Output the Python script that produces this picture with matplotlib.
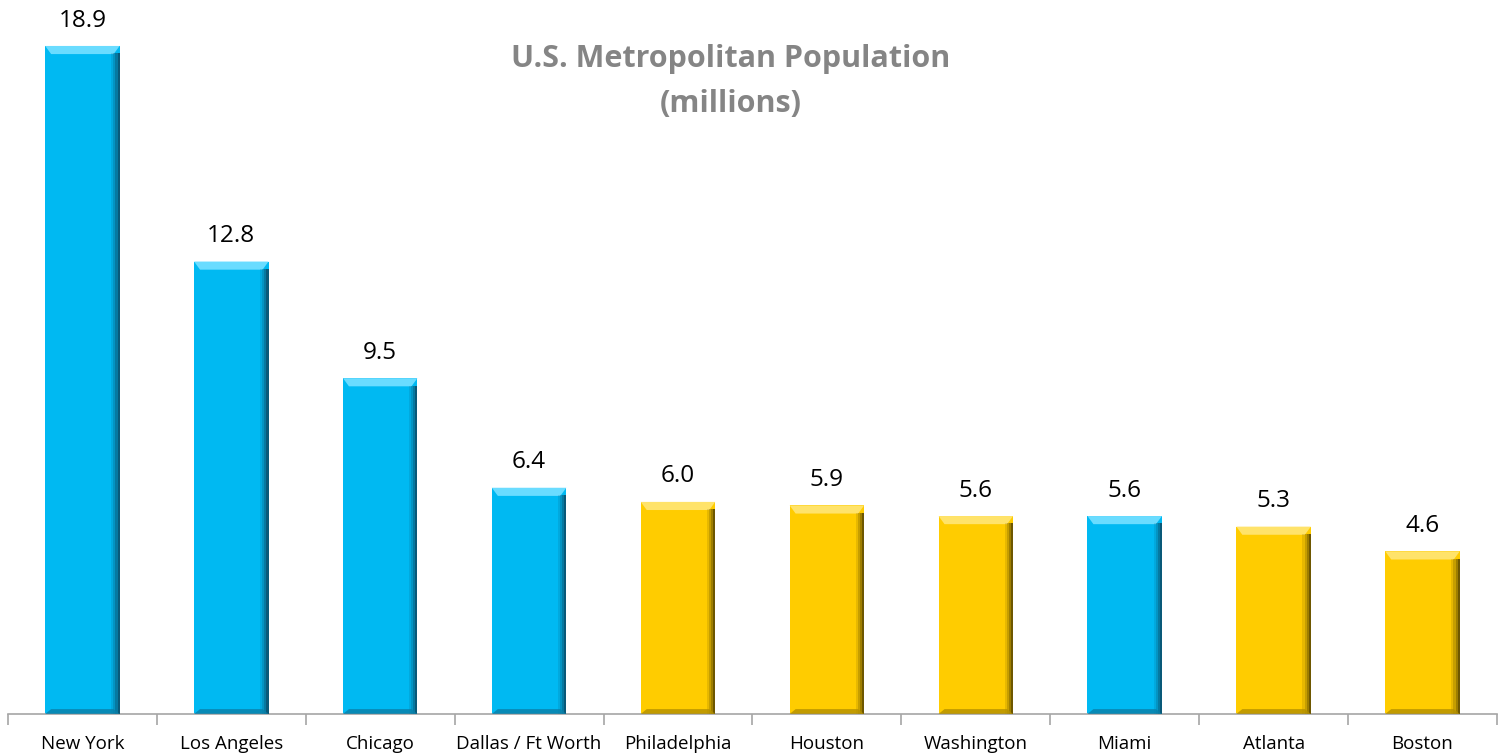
import matplotlib

matplotlib.use("Agg")
import matplotlib.pyplot as plt
from matplotlib.patches import Polygon
import numpy as np

CITIES = [
    "New York", "Los Angeles", "Chicago", "Dallas / Ft Worth", "Philadelphia",
    "Houston", "Washington", "Miami", "Atlanta", "Boston",
]
POPULATION = [18.9, 12.8, 9.5, 6.4, 6.0, 5.9, 5.6, 5.6, 5.3, 4.6]
GROUP = ["blue", "blue", "blue", "blue", "gold", "gold", "gold", "blue", "gold", "gold"]

STYLE = {
    "blue": {"face": "#00B9F2", "top": "#6ADCFF", "side": "#0B4F6C", "bottom": "#0A7FA8"},
    "gold": {"face": "#FFCC00", "top": "#FFE36A", "side": "#5E4A00", "bottom": "#B38F00"},
}

plt.rcParams["font.family"] = ["Open Sans", "DejaVu Sans"]

fig = plt.figure(figsize=(15.01, 7.56), dpi=100)
ax = fig.add_axes([0.0053, 0.0556, 0.992, 0.9444])

width = 0.5
bx = 0.04   # bevel width (x data units)
by = 0.23   # bevel height (y data units)
x = np.arange(len(CITIES))

for xi, val, grp in zip(x, POPULATION, GROUP):
    st = STYLE[grp]
    left, right = xi - width / 2, xi + width / 2
    ax.bar(xi, val, width=width, color=st["face"], edgecolor="none", zorder=2)
    # top bevel
    ax.add_patch(Polygon([(left, val), (right, val), (right - bx, val - by), (left + bx, val - by)],
                         closed=True, facecolor=st["top"], edgecolor="none", zorder=3))
    # right side shading, fading from dark edge inward
    for k, a in enumerate([0.9, 0.6, 0.35, 0.15]):
        x0 = right - bx * (k + 1) / 4 * 1.4
        x1 = right - bx * k / 4 * 1.4
        ax.add_patch(Polygon([(x0, val - by * 0.9), (x1, val - by * 0.9), (x1, 0), (x0, 0)],
                             closed=True, facecolor=st["side"], alpha=a, edgecolor="none", zorder=3))
    # bottom bevel
    ax.add_patch(Polygon([(left, 0), (right, 0), (right - bx, by * 0.6), (left + bx, by * 0.6)],
                         closed=True, facecolor=st["bottom"], alpha=0.8, edgecolor="none", zorder=3))
    ax.text(xi, val + 0.38, f"{val:.1f}", ha="center", va="bottom", fontsize=17.5, color="black")

ax.set_xlim(-0.5, len(CITIES) - 0.5)
ax.set_ylim(0, 20.2)

for side in ["left", "right", "top"]:
    ax.spines[side].set_visible(False)
ax.spines["bottom"].set_color("#A6A6A6")
ax.spines["bottom"].set_linewidth(1.2)
ax.set_yticks([])

ax.set_xticks(np.arange(len(CITIES) + 1) - 0.5)
ax.set_xticklabels([])
ax.tick_params(axis="x", which="major", length=8, width=1.2, color="#A6A6A6")
ax.set_xticks(x, CITIES, minor=True)
ax.tick_params(axis="x", which="minor", length=0, pad=15, labelsize=13.5, labelcolor="black")

fig.text(0.487, 0.922, "U.S. Metropolitan Population", ha="center", va="center",
         fontsize=22, fontweight="bold", color="#858585")
fig.text(0.487, 0.862, "(millions)", ha="center", va="center",
         fontsize=22, fontweight="bold", color="#858585")

fig.savefig("out.png", dpi=100)
